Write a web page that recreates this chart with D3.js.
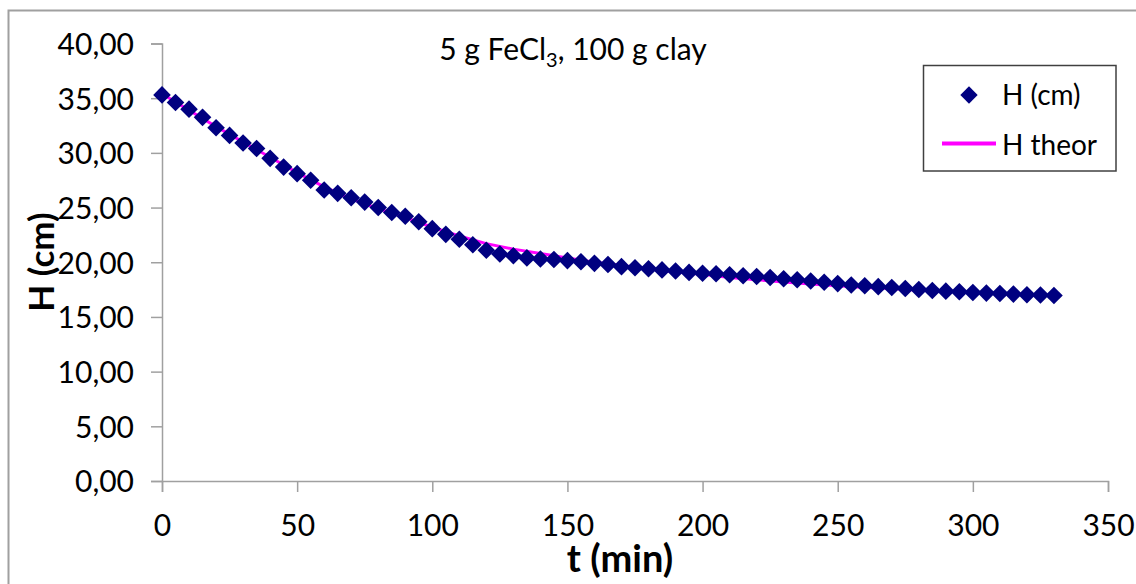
<!DOCTYPE html>
<html><head><meta charset="utf-8">
<script src="https://cdn.jsdelivr.net/npm/d3@7"></script>
<style>body{margin:0;background:#fff}svg{display:block}text{font-family:Lato,"Open Sans",sans-serif;fill:#000}</style>
</head><body><svg id="c" width="1136" height="584"></svg>
<script>
const times = d3.range(0, 331, 5);
const hMeasured = [35.3,34.6,34.0,33.25,32.3,31.6,30.9,30.4,29.5,28.7,28.1,27.5,26.6,26.3,25.9,25.5,25.0,24.55,24.2,23.7,
 23.07,22.55,22.1,21.6,21.1,20.75,20.6,20.4,20.3,20.25,20.15,20.05,19.9,19.8,19.6,19.5,19.4,19.3,19.2,19.07,
 19.0,18.95,18.86,18.76,18.7,18.61,18.49,18.4,18.28,18.17,18.05,17.92,17.85,17.77,17.69,17.6,17.51,17.42,17.36,17.3,
 17.24,17.18,17.14,17.09,17.03,17.0,16.96];
const theorTimes = [0,10,20,30,40,50,60,70,80,90,100,110,120,130,140,150,160,170,180,190,200,210,220,230,240,250,260,270,280,290,300,310,320,330];
const hTheor = [35.4,33.9,32.4,31.0,29.6,28.2,26.9,25.8,24.9,24.1,23.2,22.4,21.7,21.2,20.8,20.4,20.0,19.7,19.4,19.1,18.9,18.6,18.4,18.2,18.0,17.85,17.7,17.6,17.45,17.35,17.25,17.15,17.05,16.95];
const xTicks = [0,50,100,150,200,250,300,350];
const yTicks = [0,5,10,15,20,25,30,35,40];
const seriesNames = ["H (cm)", "H theor"];

const svg = d3.select("#c");
const x = d3.scaleLinear().domain([0,350]).range([162,1108]);
const y = d3.scaleLinear().domain([0,40]).range([481,43.5]);
const axisCol = "#a0a0a0";

svg.append("rect").attr("x",8.5).attr("y",10.5).attr("width",1140).attr("height",600)
  .attr("fill","none").attr("stroke","#a0a0a0").attr("stroke-width",2);

const ya = svg.append("g").attr("transform","translate(162,0)")
  .call(d3.axisLeft(y).tickValues(yTicks).tickSizeOuter(0).tickSize(11).tickPadding(17)
    .tickFormat(d => d3.format(".2f")(d).replace(".", ",")));
ya.select(".domain").attr("stroke",axisCol).attr("stroke-width",1.5);
ya.selectAll(".tick line").attr("stroke",axisCol).attr("stroke-width",1.5);
ya.selectAll(".tick text").attr("font-size",30).attr("font-family","Lato").attr("dy","0.36em");

const xa = svg.append("g").attr("transform","translate(0,481)")
  .call(d3.axisBottom(x).tickValues(xTicks).tickSizeOuter(0).tickSize(11).tickPadding(23)
    .tickFormat(d3.format("d")));
xa.select(".domain").attr("stroke",axisCol).attr("stroke-width",1.5);
xa.selectAll(".tick line").attr("stroke",axisCol).attr("stroke-width",1.5);
xa.selectAll(".tick text").attr("font-size",30).attr("font-family","Lato").attr("dy","0.71em");

svg.append("path").datum(theorTimes.map((t,i)=>[t,hTheor[i]]))
  .attr("fill","none").attr("stroke","#ff00ff").attr("stroke-width",3)
  .attr("d", d3.line().x(d=>x(d[0])).y(d=>y(d[1])));

const diamond = d3.symbol().type(d3.symbolSquare).size(155)();
svg.append("g").selectAll("path").data(times.map((t,i)=>[t,hMeasured[i]])).join("path")
  .attr("d", diamond).attr("fill","#000080")
  .attr("transform", d=>`translate(${x(d[0])},${y(d[1])}) rotate(45)`);

const tt = svg.append("text").attr("x",573).attr("y",60).attr("text-anchor","middle").attr("font-size",30);
tt.append("tspan").text("5 g FeCl");
tt.append("tspan").text("3").attr("font-size",20).attr("dy",7);
tt.append("tspan").text(", 100 g clay").attr("dy",-7);

svg.append("text").attr("x",620).attr("y",572).attr("text-anchor","middle")
  .attr("font-size",38).attr("font-weight","bold").text("t (min)");
svg.append("text").attr("transform","translate(54,262) rotate(-90)").attr("text-anchor","middle")
  .attr("font-size",35).attr("font-weight","bold").text("H (cm)");

const lg = svg.append("g");
lg.append("rect").attr("x",923.5).attr("y",65.5).attr("width",192.5).attr("height",105.5)
  .attr("fill","#fff").attr("stroke","#404040").attr("stroke-width",1.5);
lg.append("path").attr("d", d3.symbol().type(d3.symbolSquare).size(150)())
  .attr("fill","#000080").attr("transform","translate(969,95) rotate(45)");
lg.append("line").attr("x1",942).attr("x2",996).attr("y1",143.5).attr("y2",143.5)
  .attr("stroke","#ff00ff").attr("stroke-width",4);
lg.append("text").attr("x",1002).attr("y",105).attr("font-size",28).text(seriesNames[0]);
lg.append("text").attr("x",1002).attr("y",155).attr("font-size",28).text(seriesNames[1]);
</script></body></html>
